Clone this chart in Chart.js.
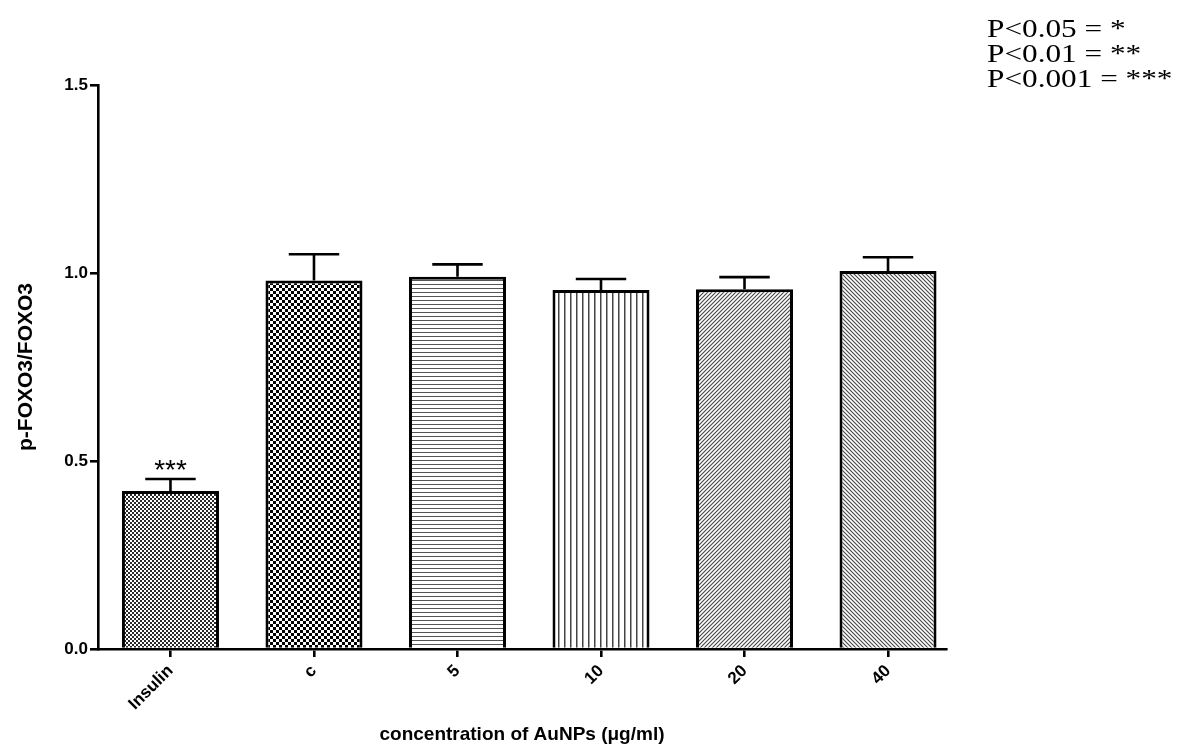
<!DOCTYPE html>
<html><head><meta charset="utf-8">
<script src="https://cdn.jsdelivr.net/npm/chart.js@4.4.1/dist/chart.umd.min.js"></script>
<style>
html,body{margin:0;padding:0;background:#fff;}
#wrap{position:relative;width:1178px;height:751px;overflow:hidden;}
canvas{position:absolute;left:0;top:0;}
#note{position:absolute;left:987px;top:16px;font-family:'Liberation Serif','Times New Roman',serif;font-size:25px;line-height:25px;color:#000;white-space:nowrap;transform:scaleX(1.25);transform-origin:0 0;}
</style></head>
<body><div id="wrap"><canvas id="c" width="1178" height="751"></canvas><div id="note"></div></div>
<script>
// ---- data ----
const categories = ['Insulin', 'c', '5', '10', '20', '40'];
const means = [0.42, 0.98, 0.99, 0.955, 0.957, 1.005];
const sems = [0.032, 0.07, 0.033, 0.029, 0.032, 0.037];
const significance = ['***', '', '', '', '', ''];
const yTickValues = [0, 0.5, 1.0, 1.5];
const xTitle = 'concentration of AuNPs (\u03bcg/ml)';
const yTitle = 'p-FOXO3/FOXO3';
const notes = ['P<0.05 = *', 'P<0.01 = **', 'P<0.001 = ***'];
const patternKinds = ['fineCheck', 'check', 'hlines', 'vlines', 'diagUp', 'diagDown'];

document.getElementById('note').innerHTML = notes.map(t => t.replace(/</g, '&lt;')).join('<br>');

function makePattern(kind) {
  const c = document.createElement('canvas');
  const g = c.getContext('2d');
  let s = 4;
  if (kind === 'check') s = 6;
  if (kind === 'vlines') s = 6;
  c.width = s; c.height = s;
  g.fillStyle = '#fff'; g.fillRect(0, 0, s, s);
  if (kind === 'fineCheck') {
    g.fillStyle = '#2a2a2a'; g.fillRect(0, 0, 2, 2); g.fillRect(2, 2, 2, 2);
  } else if (kind === 'check') {
    g.fillStyle = '#000'; g.fillRect(0, 0, 3, 3); g.fillRect(3, 3, 3, 3);
  } else if (kind === 'hlines') {
    g.fillStyle = '#555'; g.fillRect(0, 0, s, 1);
  } else if (kind === 'vlines') {
    g.fillStyle = '#444'; g.fillRect(0, 0, 1.5, s);
  } else if (kind === 'diagUp' || kind === 'diagDown') {
    g.strokeStyle = '#444'; g.lineWidth = 1.1;
    g.beginPath();
    if (kind === 'diagUp') {
      g.moveTo(0, s); g.lineTo(s, 0);
      g.moveTo(-1, 1); g.lineTo(1, -1);
      g.moveTo(s - 1, s + 1); g.lineTo(s + 1, s - 1);
    } else {
      g.moveTo(0, 0); g.lineTo(s, s);
      g.moveTo(-1, s - 1); g.lineTo(1, s + 1);
      g.moveTo(s - 1, -1); g.lineTo(s + 1, 1);
    }
    g.stroke();
  }
  return g.createPattern(c, 'repeat');
}

Chart.defaults.font.family = "'Liberation Sans', Arial, sans-serif";
Chart.defaults.color = '#000';

const bgPlugin = {
  id: 'bg',
  beforeDraw(chart) {
    const ctx = chart.ctx;
    ctx.save(); ctx.fillStyle = '#fff'; ctx.fillRect(0, 0, chart.width, chart.height); ctx.restore();
  }
};

const errPlugin = {
  id: 'err',
  afterDatasetsDraw(chart) {
    const ctx = chart.ctx;
    const meta = chart.getDatasetMeta(0);
    const ys = chart.scales.y;
    ctx.save();
    ctx.strokeStyle = '#000';
    ctx.lineWidth = 2.6;
    ctx.lineCap = 'butt';
    meta.data.forEach((bar, i) => {
      const x = bar.x;
      const yb = ys.getPixelForValue(means[i]);
      const yt = ys.getPixelForValue(means[i] + sems[i]);
      const half = bar.width * 0.26;
      ctx.beginPath();
      ctx.moveTo(x, yb); ctx.lineTo(x, yt);
      ctx.moveTo(x - half, yt); ctx.lineTo(x + half, yt);
      ctx.stroke();
      if (significance[i]) {
        ctx.fillStyle = '#000';
        ctx.font = "28px 'Liberation Sans', Arial, sans-serif";
        ctx.textAlign = 'center';
        ctx.textBaseline = 'alphabetic';
        ctx.fillText(significance[i], x, yt);
      }
    });
    ctx.restore();
  }
};

const ctx = document.getElementById('c').getContext('2d');
new Chart(ctx, {
  type: 'bar',
  data: {
    datasets: [{
      data: categories.map((c, i) => ({ x: i, y: means[i] })),
      backgroundColor: patternKinds.map(makePattern),
      borderColor: '#000',
      borderWidth: 3,
      borderSkipped: 'start',
      barPercentage: 0.676,
      categoryPercentage: 1.0
    }]
  },
  options: {
    responsive: false,
    animation: false,
    events: [],
    layout: { padding: { left: 0, right: 232, top: 85, bottom: 0 } },
    plugins: { legend: { display: false }, tooltip: { enabled: false } },
    scales: {
      x: {
        type: 'linear',
        min: -0.505,
        max: 5.404,
        offset: false,
        afterBuildTicks(scale) { scale.ticks = categories.map((c, i) => ({ value: i })); },
        afterFit(scale) { scale.height = 102; },
        border: { display: true, color: '#000', width: 2.6 },
        grid: { offset: false, drawOnChartArea: false, drawTicks: true, tickLength: 8, color: '#000', lineWidth: 2.6 },
        ticks: {
          autoSkip: false, minRotation: 45, maxRotation: 45, padding: 4,
          font: { size: 17, weight: 'bold' },
          callback: (v) => categories[v] !== undefined ? categories[v] : ''
        },
        title: { display: true, text: xTitle, font: { size: 19, weight: 'bold' }, padding: { top: 0, bottom: 5 } }
      },
      y: {
        min: 0, max: 1.5,
        afterBuildTicks(scale) { scale.ticks = yTickValues.map(v => ({ value: v })); },
        afterFit(scale) { scale.width = 98; },
        border: { display: true, color: '#000', width: 2.6 },
        grid: { offset: false, drawOnChartArea: false, drawTicks: true, tickLength: 8, color: '#000', lineWidth: 2.6 },
        ticks: { padding: 2, font: { size: 17, weight: 'bold' }, callback: (v) => Number(v).toFixed(1) },
        title: { display: true, text: yTitle, font: { size: 21, weight: 'bold' }, padding: { top: 14, bottom: 0 } }
      }
    }
  },
  plugins: [bgPlugin, errPlugin]
});
</script>
</body></html>
